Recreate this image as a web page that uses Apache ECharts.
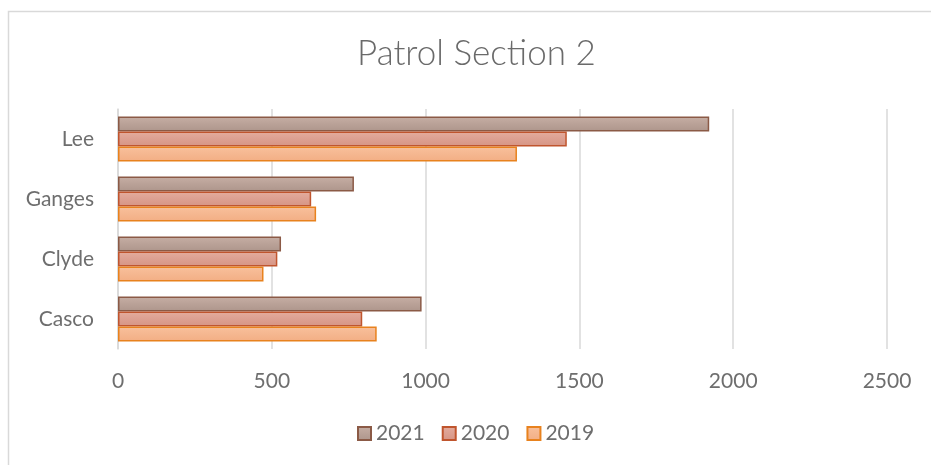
<!DOCTYPE html>
<html>
<head>
<meta charset="utf-8">
<script src="https://cdn.jsdelivr.net/npm/echarts@6/dist/echarts.min.js"></script>
<style>
html,body{margin:0;padding:0;background:#fff;}
#chart{width:931px;height:465px;}
</style>
</head>
<body>
<div id="chart"></div>
<script>
var categories = ['Casco', 'Clyde', 'Ganges', 'Lee'];
var values2019 = [841, 473, 644, 1297];
var values2020 = [794, 518, 628, 1459];
var values2021 = [987, 530, 767, 1922];
var xTicks = [0, 500, 1000, 1500, 2000, 2500];
var legendOrder = ['2021', '2020', '2019'];

var FONT = 'Lato';
function grad(top, bottom) {
  return new echarts.graphic.LinearGradient(0, 0, 0, 1, [
    {offset: 0, color: top}, {offset: 1, color: bottom}
  ]);
}
var chart = echarts.init(document.getElementById('chart'), null, {renderer: 'canvas'});
var option = {
  backgroundColor: '#ffffff',
  animation: false,
  title: {
    text: 'Patrol Section 2',
    left: 352,
    top: 31,
    textStyle: {fontFamily: FONT, fontSize: 35, fontWeight: 300, color: '#6a6a6a'}
  },
  graphic: [{
    type: 'rect', left: 6, top: 9, z: -1,
    shape: {width: 940, height: 480},
    style: {fill: 'none', stroke: '#d9d9d9', lineWidth: 1.5}
  }],
  legend: {
    data: legendOrder,
    bottom: 16,
    left: 352,
    itemWidth: 13,
    itemHeight: 13,
    itemGap: 17,
    icon: 'rect',
    textStyle: {fontFamily: FONT, fontSize: 21, color: '#6e6e6e'}
  },
  grid: {left: 118, right: 44, top: 109, bottom: 116},
  xAxis: {
    type: 'value',
    min: xTicks[0],
    max: xTicks[xTicks.length - 1],
    interval: 500,
    axisLine: {show: false},
    axisTick: {show: false},
    splitLine: {lineStyle: {color: '#d9d9d9', width: 1.5}},
    axisLabel: {fontFamily: FONT, fontSize: 21, color: '#6e6e6e', margin: 22,
      formatter: function (v) { return String(v); }}
  },
  yAxis: {
    type: 'category',
    data: categories,
    axisLine: {show: true, lineStyle: {color: '#d9d9d9', width: 1.5}},
    axisTick: {show: false},
    axisLabel: {fontFamily: FONT, fontSize: 21, color: '#6e6e6e', margin: 24}
  },
  series: [
    {name: '2021', type: 'bar', data: values2021, barWidth: 15, barGap: '0%',
     itemStyle: {color: grad('#c6aea4', '#ad958b'), borderColor: '#8b5a46', borderWidth: 1.5}},
    {name: '2020', type: 'bar', data: values2020, barWidth: 15, barGap: '0%',
     itemStyle: {color: grad('#e4ac9e', '#d69484'), borderColor: '#c0552e', borderWidth: 1.5}},
    {name: '2019', type: 'bar', data: values2019, barWidth: 15, barGap: '0%',
     itemStyle: {color: grad('#f8c09c', '#f2ae84'), borderColor: '#e8821e', borderWidth: 1.5}}
  ]
};
chart.setOption(option);
</script>
</body>
</html>
